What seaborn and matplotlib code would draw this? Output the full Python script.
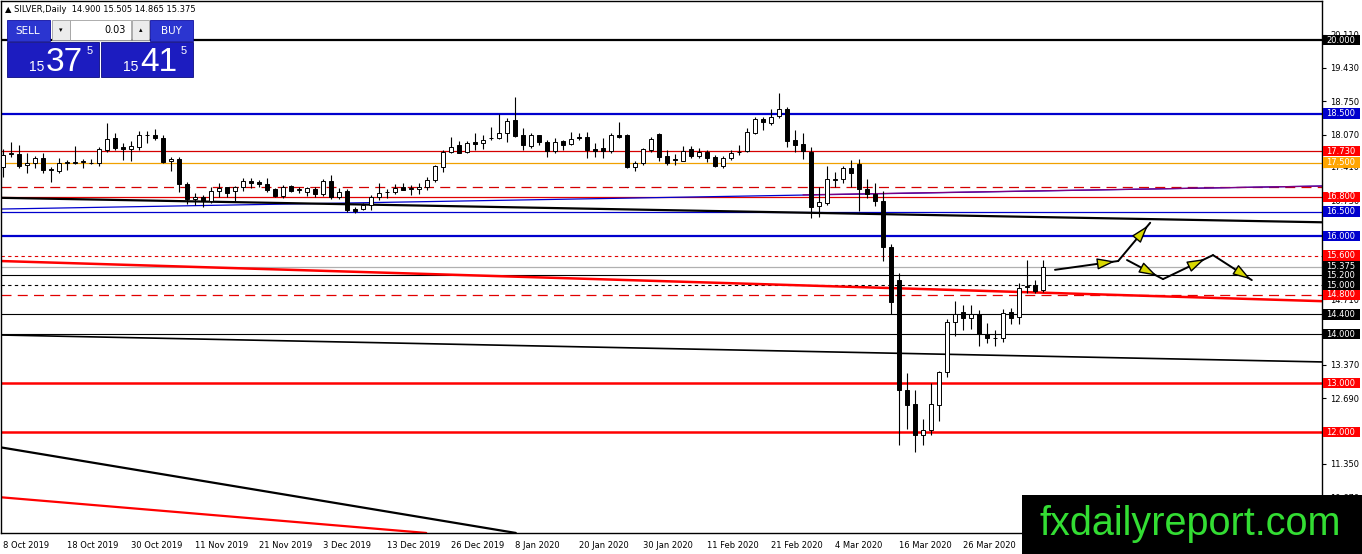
import numpy as np
import matplotlib
matplotlib.use("Agg")
import matplotlib.pyplot as plt
import matplotlib.transforms as mtransforms
from matplotlib.patches import Rectangle
import seaborn as sns

# SILVER daily candles, 8 Oct 2019 .. 7 Apr 2020
opens = [17.40, 17.67, 17.67, 17.45, 17.50, 17.60, 17.37, 17.33, 17.50, 17.50,
         17.52, 17.48, 17.50, 17.75, 18.01, 17.82, 17.77, 17.82, 18.06, 18.06,
         17.99, 17.53, 17.58, 17.07, 16.75, 16.80, 16.72, 16.92, 16.99, 16.92,
         16.99, 17.13, 17.11, 17.06, 16.95, 16.82, 17.03, 16.94, 16.90, 16.95,
         16.85, 17.12, 16.79, 16.92, 16.56, 16.55, 16.63, 16.80, 16.90, 16.89,
         16.99, 16.96, 16.95, 16.99, 17.14, 17.40, 17.72, 17.86, 17.71, 17.91,
         17.89, 17.99, 17.99, 18.10, 18.37, 18.06, 17.84, 18.06, 17.92, 17.74,
         17.94, 17.88, 18.03, 18.03, 17.77, 17.80, 17.74, 18.07, 18.06, 17.40,
         17.48, 17.76, 18.08, 17.63, 17.57, 17.54, 17.77, 17.64, 17.72, 17.62,
         17.42, 17.59, 17.71, 17.74, 18.11, 18.38, 18.31, 18.44, 18.59, 17.96,
         17.88, 17.72, 16.62, 16.67, 17.15, 17.16, 17.38, 17.47, 16.96, 16.85,
         16.71, 15.77, 15.10, 12.86, 12.57, 11.94, 12.05, 12.55, 13.22, 14.24,
         14.44, 14.33, 14.40, 13.99, 13.91, 13.91, 14.44, 14.34, 14.95, 15.00,
         14.900]
highs = [17.78, 17.91, 17.86, 17.70, 17.63, 17.69, 17.41, 17.60, 17.56, 17.84,
         17.58, 17.58, 17.81, 18.30, 18.10, 17.89, 17.93, 18.15, 18.15, 18.18,
         18.06, 17.62, 17.62, 17.11, 16.88, 16.84, 16.99, 17.09, 17.01, 17.02,
         17.18, 17.18, 17.14, 17.18, 16.97, 17.04, 17.05, 16.99, 17.01, 16.99,
         17.16, 17.25, 16.97, 16.95, 16.60, 16.67, 16.84, 17.08, 16.95, 17.06,
         17.08, 17.04, 17.08, 17.21, 17.45, 17.76, 18.03, 17.93, 17.93, 18.11,
         18.06, 18.23, 18.49, 18.40, 18.83, 18.20, 18.11, 18.07, 17.96, 18.01,
         17.96, 18.13, 18.10, 18.13, 17.89, 17.99, 18.10, 18.33, 18.08, 17.53,
         17.80, 18.03, 18.10, 17.76, 17.67, 17.84, 17.84, 17.80, 17.76, 17.65,
         17.64, 17.76, 17.86, 18.20, 18.42, 18.42, 18.59, 18.91, 18.64, 18.16,
         18.10, 17.82, 17.01, 17.42, 17.31, 17.43, 17.55, 17.57, 17.16, 17.08,
         16.91, 15.84, 15.24, 13.20, 12.86, 12.26, 12.99, 13.25, 14.30, 14.67,
         14.59, 14.59, 14.50, 14.22, 14.09, 14.52, 14.54, 15.05, 15.51, 15.10,
         15.505]
lows = [17.20, 17.62, 17.38, 17.28, 17.38, 17.29, 17.11, 17.28, 17.35, 17.47,
        17.38, 17.46, 17.43, 17.72, 17.75, 17.56, 17.54, 17.75, 17.89, 17.95,
        17.48, 17.33, 16.90, 16.65, 16.63, 16.60, 16.67, 16.79, 16.79, 16.70,
        16.92, 16.97, 17.01, 16.90, 16.80, 16.77, 16.89, 16.87, 16.82, 16.80,
        16.82, 16.75, 16.75, 16.48, 16.46, 16.53, 16.53, 16.74, 16.77, 16.86,
        16.93, 16.84, 16.85, 16.94, 17.11, 17.31, 17.69, 17.69, 17.69, 17.76,
        17.78, 17.96, 17.97, 17.91, 18.03, 17.75, 17.79, 17.86, 17.62, 17.69,
        17.76, 17.86, 17.96, 17.59, 17.62, 17.59, 17.69, 18.01, 17.38, 17.33,
        17.45, 17.72, 17.53, 17.45, 17.45, 17.53, 17.60, 17.60, 17.52, 17.40,
        17.38, 17.55, 17.65, 17.72, 18.08, 18.16, 18.27, 18.40, 17.82, 17.72,
        17.57, 16.36, 16.38, 16.63, 17.01, 17.08, 17.01, 16.52, 16.77, 16.62,
        15.48, 14.41, 11.73, 12.07, 11.60, 11.73, 11.94, 12.23, 13.12, 13.95,
        14.08, 14.10, 13.76, 13.81, 13.75, 13.84, 14.20, 14.20, 14.83, 14.83,
        14.865]
closes = [17.65, 17.70, 17.43, 17.50, 17.60, 17.35, 17.35, 17.48, 17.51, 17.52,
          17.53, 17.50, 17.77, 17.97, 17.79, 17.77, 17.84, 18.06, 18.07, 17.99,
          17.52, 17.57, 17.06, 16.75, 16.79, 16.72, 16.92, 16.97, 16.88, 16.99,
          17.13, 17.09, 17.06, 16.94, 16.82, 17.01, 16.91, 16.95, 16.97, 16.85,
          17.12, 16.80, 16.89, 16.53, 16.52, 16.63, 16.80, 16.87, 16.89, 16.97,
          16.94, 16.97, 17.00, 17.14, 17.42, 17.72, 17.82, 17.70, 17.89, 17.87,
          17.96, 18.01, 18.10, 18.35, 18.05, 17.85, 18.06, 17.91, 17.74, 17.92,
          17.86, 17.98, 17.99, 17.76, 17.74, 17.74, 18.06, 18.03, 17.40, 17.50,
          17.77, 17.98, 17.62, 17.50, 17.55, 17.74, 17.64, 17.72, 17.60, 17.42,
          17.60, 17.69, 17.72, 18.12, 18.38, 18.32, 18.42, 18.59, 17.93, 17.86,
          17.74, 16.60, 16.69, 17.16, 17.16, 17.38, 17.28, 16.95, 16.86, 16.71,
          15.77, 14.66, 12.86, 12.55, 11.94, 12.05, 12.57, 13.22, 14.25, 14.40,
          14.33, 14.40, 14.00, 13.91, 13.92, 14.42, 14.33, 14.93, 14.97, 14.88,
          15.375]

date_ticks = [0, 8, 16, 24, 32, 40, 48, 56, 64, 72, 80, 88, 96, 104, 112, 120]
date_labels = ["8 Oct 2019", "18 Oct 2019", "30 Oct 2019", "11 Nov 2019",
               "21 Nov 2019", "3 Dec 2019", "13 Dec 2019", "26 Dec 2019",
               "8 Jan 2020", "20 Jan 2020", "30 Jan 2020", "11 Feb 2020",
               "21 Feb 2020", "4 Mar 2020", "16 Mar 2020", "26 Mar 2020"]
price_ticks = [20.11, 19.43, 18.75, 18.07, 17.41, 16.73,
               14.71, 13.37, 12.69, 11.35, 10.67]

# horizontal levels drawn on the chart
levels = [20.0, 18.5, 17.73, 17.5, 17.0, 16.8, 16.5, 16.0, 15.6, 15.375,
          15.2, 15.0, 14.8, 14.4, 14.0, 13.0, 12.0]
level_style = {
    20.0: ("black", 1.6, "-"), 18.5: ("#0000cd", 1.6, "-"),
    17.73: ("#d40000", 0.9, "-"), 17.5: ("#f0a000", 0.9, "-"),
    17.0: ("#d40000", 0.9, (0, (8, 5))), 16.8: ("#e00000", 0.9, "-"),
    16.5: ("#0000cd", 0.9, "-"), 16.0: ("#0000cd", 1.6, "-"),
    15.6: ("#e00000", 0.8, (0, (3, 3))), 15.375: ("#b0b0b0", 0.9, "-"),
    15.2: ("black", 0.8, "-"), 15.0: ("black", 0.8, (0, (3, 3))),
    14.8: ("#e00000", 0.9, (0, (8, 5))), 14.4: ("black", 0.8, "-"),
    14.0: ("black", 0.8, "-"), 13.0: ("#ff0000", 1.8, "-"),
    12.0: ("#ff0000", 1.8, "-"),
}
# price labels on the right scale (value, background)
tag_prices = [20.0, 18.5, 17.73, 17.5, 16.8, 16.5, 16.0, 15.6, 15.375,
              15.2, 15.0, 14.8, 14.4, 14.0, 13.0, 12.0]
tag_colors = ["black", "#0000cd", "#ff0000", "#ffa500", "#ff0000", "#0000cd",
              "#0000cd", "#ff0000", "black", "black", "black", "#ff0000",
              "black", "black", "#ff0000", "#ff0000"]

# trend lines: (bar0, price0, bar1, price1)
trend_black = [-0.4, 16.78, 164.9, 16.28]
trend_blue = [-0.4, 16.55, 164.9, 17.02]
trend_purple = [100.0, 16.84, 164.9, 17.02]
trend_red = [-0.4, 15.49, 164.9, 14.67]
trend_black_low = [-0.4, 13.98, 164.9, 13.43]
trend_black_steep = [-0.4, 11.69, 64.1, 9.94]
trend_red_steep = [-0.4, 10.67, 52.9, 9.94]

# forecast path: (start, end, where the arrow head tip sits along it)
path_start = [(131.5, 15.31), (139.4, 15.49), (140.5, 15.51), (145.0, 15.12), (151.25, 15.61)]
path_end = [(139.4, 15.49), (143.4, 16.27), (145.0, 15.12), (151.25, 15.61), (156.1, 15.10)]
path_tip = [0.95, 0.93, 0.83, 0.84, 0.97]

sns.set_theme(style="white")
plt.rcParams["font.family"] = ["DejaVu Sans"]

W, H = 1362, 554
fig = plt.figure(figsize=(W / 100, H / 100), dpi=100)
ax = fig.add_axes([1 / W, (H - 533) / H, 1321 / W, 532 / H])
ax.set_facecolor("white")

o = np.array(opens)
hi = np.array(highs)
lo = np.array(lows)
c = np.array(closes)
x = np.arange(len(o))

for p in levels:
    col, lw, ls = level_style[p]
    ax.axhline(p, color=col, lw=lw, ls=ls, zorder=1)

for tl, col, lw in [(trend_blue, "#0000cd", 0.9), (trend_purple, "#800080", 0.9),
                    (trend_black, "black", 1.6), (trend_red, "#ff0000", 1.8),
                    (trend_black_low, "black", 1.2), (trend_black_steep, "black", 1.6),
                    (trend_red_steep, "#ff0000", 1.6)]:
    ax.plot([tl[0], tl[2]], [tl[1], tl[3]], color=col, lw=lw, zorder=2)

# candles
ax.vlines(x, lo, hi, color="black", lw=0.8, zorder=3)
body_low = np.minimum(o, c)
body_h = np.maximum(np.abs(c - o), 0.004)
ax.bar(x, body_h, bottom=body_low, width=0.62,
       color=np.where(c >= o, "white", "black"), edgecolor="black",
       linewidth=0.7, zorder=4)

# forecast arrows
for (x0, y0), (x1, y1), t in zip(path_start, path_end, path_tip):
    ax.plot([x0, x1], [y0, y1], color="black", lw=1.4, zorder=5)
    tx, ty = x0 + t * (x1 - x0), y0 + t * (y1 - y0)
    bx, by = x0 + (t - 0.2) * (x1 - x0), y0 + (t - 0.2) * (y1 - y0)
    ax.annotate("", xy=(tx, ty), xytext=(bx, by), zorder=6,
                arrowprops=dict(arrowstyle="-|>,head_length=1.1,head_width=0.35",
                                mutation_scale=10, fc="#d8d800", ec="black",
                                lw=1.0, shrinkA=0, shrinkB=0))

ax.set_xlim(-0.25, 164.875)
ax.set_ylim(9.939, 20.796)

ax.yaxis.tick_right()
ax.set_yticks(price_ticks)
ax.set_yticklabels([f"{v:.3f}" for v in price_ticks])
ax.set_xticks(date_ticks)
ax.set_xticklabels(date_labels)
for lab in ax.get_xticklabels():
    lab.set_ha("left")
ax.tick_params(axis="both", which="both", direction="out", length=3, width=0.8,
               colors="black", labelsize=6, pad=2)
ax.tick_params(axis="x", pad=3)
ax.tick_params(axis="y", right=True, left=False, pad=3)
ax.grid(False)
for s in ax.spines.values():
    s.set_color("black")
    s.set_linewidth(1.0)

# coloured price tags on the scale
blend = mtransforms.blended_transform_factory(fig.transFigure, ax.transData)
for p, col in zip(tag_prices, tag_colors):
    ax.add_patch(Rectangle((1323 / W, p - 0.105), 37 / W, 0.21, transform=blend,
                           facecolor=col, edgecolor="none", clip_on=False, zorder=10))
    ax.text(1326 / W, p, f"{p:.3f}", transform=blend, color="white", fontsize=6,
            ha="left", va="center", clip_on=False, zorder=11)

# overlay in pixel units for the terminal widgets and the logo
ov = fig.add_axes([0, 0, 1, 1])
ov.set_xlim(0, W)
ov.set_ylim(H, 0)
ov.axis("off")
ov.patch.set_alpha(0)
ov.set_zorder(5)

ov.text(5, 10, "\u25b2 SILVER,Daily  14.900 15.505 14.865 15.375", fontsize=6,
        va="center", ha="left", color="black")

blue = "#1c1cc0"
ov.add_patch(Rectangle((7, 20), 43, 21, facecolor="#2b35d0", edgecolor="#1010a0", lw=0.6))
ov.text(28, 30.5, "SELL", color="white", fontsize=7.5, ha="center", va="center")
ov.add_patch(Rectangle((52, 20), 18, 20, facecolor="#ececec", edgecolor="#a0a0a0", lw=0.6))
ov.text(61, 30, "\u25be", color="black", fontsize=5, ha="center", va="center")
ov.add_patch(Rectangle((70, 20), 61, 20, facecolor="white", edgecolor="#a0a0a0", lw=0.6))
ov.text(126, 30, "0.03", color="black", fontsize=7, ha="right", va="center")
ov.add_patch(Rectangle((132, 20), 17, 20, facecolor="#ececec", edgecolor="#a0a0a0", lw=0.6))
ov.text(140.5, 30, "\u25b4", color="black", fontsize=5, ha="center", va="center")
ov.add_patch(Rectangle((150, 20), 43, 21, facecolor="#2b35d0", edgecolor="#1010a0", lw=0.6))
ov.text(171, 30.5, "BUY", color="white", fontsize=7.5, ha="center", va="center")

for x0, small, big in [(7, "15", "37"), (101, "15", "41")]:
    ov.add_patch(Rectangle((x0, 42), 92, 35, facecolor=blue, edgecolor="#0a0a80", lw=0.6))
    ov.text(x0 + 37, 71, small, color="white", fontsize=10, ha="right", va="baseline",
            family="Liberation Sans")
    ov.text(x0 + 39, 71, big, color="white", fontsize=24, ha="left", va="baseline",
            family="Liberation Sans")
    ov.text(x0 + 80, 54, "5", color="white", fontsize=8, ha="left", va="baseline",
            family="Liberation Sans")

ov.add_patch(Rectangle((1022, 495), W - 1022, H - 495, facecolor="black", edgecolor="none"))
ov.text(1040, 535, "fxdailyreport.com", color="#33dd33", fontsize=28.5,
        family="Liberation Sans", ha="left", va="baseline")

fig.savefig("out.png", dpi=100)
